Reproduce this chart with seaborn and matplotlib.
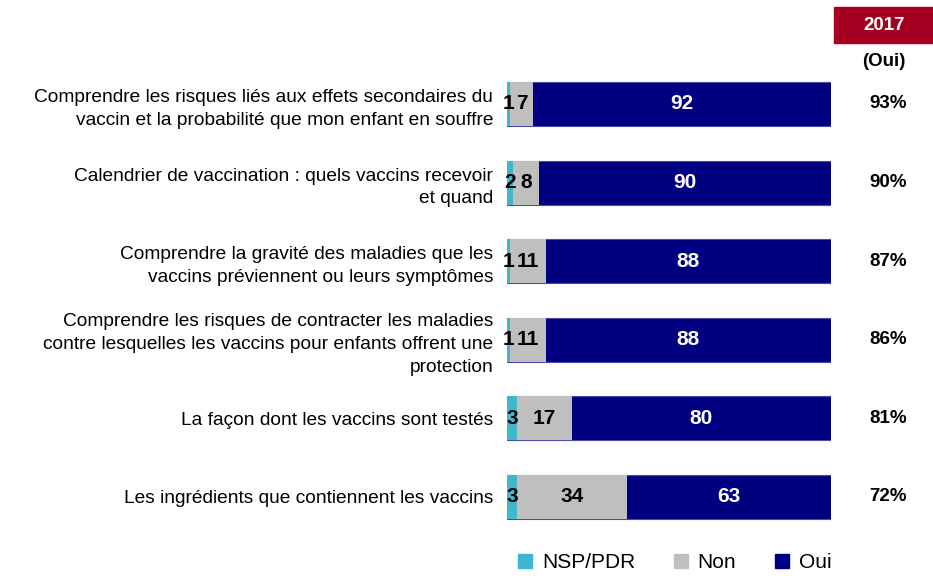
import pandas as pd
import seaborn as sns
import matplotlib.pyplot as plt
from matplotlib.patches import Rectangle
from matplotlib.lines import Line2D

# values
categories = [
    "Comprendre les risques liés aux effets secondaires du\nvaccin et la probabilité que mon enfant en souffre",
    "Calendrier de vaccination : quels vaccins recevoir\net quand",
    "Comprendre la gravité des maladies que les\nvaccins préviennent ou leurs symptômes",
    "Comprendre les risques de contracter les maladies\ncontre lesquelles les vaccins pour enfants offrent une\nprotection",
    "La façon dont les vaccins sont testés",
    "Les ingrédients que contiennent les vaccins",
]
nsp = [1, 2, 1, 1, 3, 3]
non = [7, 8, 11, 11, 17, 34]
oui = [92, 90, 88, 88, 80, 63]
oui_2017 = ["93%", "90%", "87%", "86%", "81%", "72%"]

series_names = ["NSP/PDR", "Non", "Oui"]
colors = {"NSP/PDR": "#3FB8CD", "Non": "#BFBFBF", "Oui": "#000080"}

df = pd.DataFrame({"cat": categories, "NSP/PDR": nsp, "Non": non, "Oui": oui})
df["c_nsp"] = df["NSP/PDR"]
df["c_non"] = df["c_nsp"] + df["Non"]
df["c_oui"] = df["c_non"] + df["Oui"]

sns.set_theme(style="white")
plt.rcParams["font.family"] = ["Liberation Sans", "DejaVu Sans"]
plt.rcParams["text.color"] = "black"

fig = plt.figure(figsize=(9.33, 5.78), dpi=100)
ax = fig.add_axes([0.5434, 0.0722, 0.3473, 0.816])

# stacked bars drawn as cumulative layers, back to front
sns.barplot(data=df, y="cat", x="c_oui", color=colors["Oui"], width=0.56,
            orient="h", ax=ax, saturation=1, edgecolor="#4A4AA8", linewidth=0.8)
sns.barplot(data=df, y="cat", x="c_non", color=colors["Non"], width=0.56,
            orient="h", ax=ax, saturation=1, linewidth=0)
sns.barplot(data=df, y="cat", x="c_nsp", color=colors["NSP/PDR"], width=0.56,
            orient="h", ax=ax, saturation=1, linewidth=0)

# segment labels
for i, row in df.iterrows():
    ax.text(row["c_nsp"] / 2, i, str(row["NSP/PDR"]), ha="center", va="center",
            fontsize=15, fontweight="bold", color="black")
    ax.text((row["c_nsp"] + row["c_non"]) / 2, i, str(row["Non"]), ha="center",
            va="center", fontsize=15, fontweight="bold", color="black")
    ax.text((row["c_non"] + row["c_oui"]) / 2, i, str(row["Oui"]), ha="center",
            va="center", fontsize=15, fontweight="bold", color="white")
    ax.text(1.176, i, oui_2017[i], transform=ax.get_yaxis_transform(),
            ha="center", va="center", fontsize=13.5, fontweight="bold")

ax.set_xlim(0, 100)
ax.set_xlabel("")
ax.set_ylabel("")
ax.set_xticks([])
ax.tick_params(axis="y", length=0, pad=10, labelsize=13.8, labelcolor="black")
for lbl in ax.get_yticklabels():
    lbl.set_multialignment("right")
    lbl.set_linespacing(1.45)
sns.despine(ax=ax, left=True, bottom=True)

# header of the right-hand column
fig.patches.append(Rectangle((834 / 933, 1 - 43 / 578), 99 / 933, 36 / 578,
                             transform=fig.transFigure, color="#A50021"))
fig.text(884 / 933, 1 - 25 / 578, "2017", ha="center", va="center",
         fontsize=13.5, fontweight="bold", color="white")
fig.text(884 / 933, 1 - 62 / 578, "(Oui)", ha="center", va="center",
         fontsize=13.5, fontweight="bold", color="black")

handles = [Line2D([0], [0], marker="s", linestyle="", markersize=9.5,
                  markerfacecolor=colors[s], markeredgecolor=colors[s])
           for s in series_names]
fig.legend(handles, series_names, loc="center", ncol=3,
           bbox_to_anchor=(672 / 933, 1 - 563 / 578), frameon=False,
           fontsize=15, handletextpad=0.2, columnspacing=1.6, handlelength=1.2)

fig.savefig("out.png", dpi=100)
